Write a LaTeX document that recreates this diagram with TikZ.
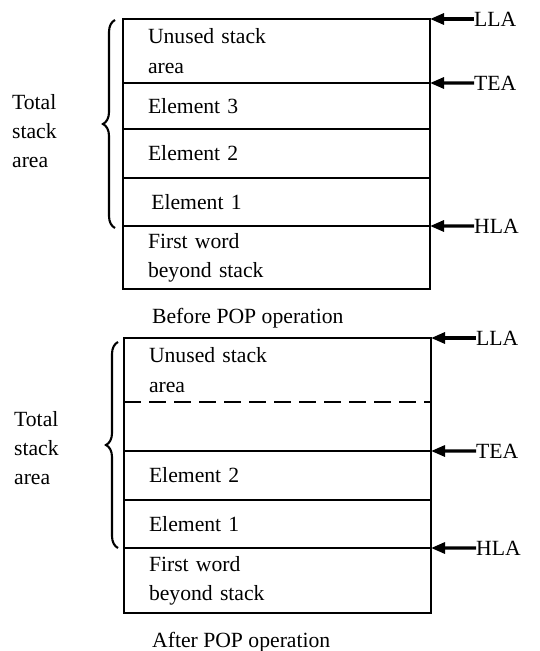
\documentclass[tikz,border=0pt]{standalone}
\usepackage{fontspec}
\setmainfont{Liberation Serif}
\usetikzlibrary{arrows.meta, positioning, decorations.pathreplacing}

\begin{document}
\begin{tikzpicture}[
  x=0.03cm, y=-0.03cm,
  every node/.style={font=\fontsize{18.5}{25}\selectfont},
  cell/.style={rectangle, minimum width=9.21cm, text width=7.71cm, inner xsep=0.75cm, inner ysep=0pt, outer sep=0pt, align=left},
  boxline/.style={line width=1.7pt},
  ptr/.style={line width=2.6pt, -{Triangle[length=0.42cm, width=0.33cm]}},
  reg/.style={anchor=west, inner sep=0pt},
  stackbrace/.style={decorate, decoration={brace, amplitude=0.36cm}, line width=1.8pt},
]
\useasboundingbox (0,0) rectangle (540,651);

% Before POP
\node[cell, anchor=north west, minimum height=1.92cm] (unusedA) at (123,19) {Unused stack\\area};
\node[cell, below=0pt of unusedA, minimum height=1.38cm] (e3A) {Element 3};
\node[cell, below=0pt of e3A, minimum height=1.47cm] (e2A) {Element 2};
\node[cell, below=0pt of e2A, minimum height=1.44cm] (e1A) {\hspace{0.1cm}Element 1};
\node[cell, below=0pt of e1A, minimum height=1.89cm] (firstA) {First word\\beyond stack};

\draw[boxline] (unusedA.north west) rectangle (firstA.south east);
\draw[boxline] (e3A.north west) -- (e3A.north east);
\draw[boxline] (e2A.north west) -- (e2A.north east);
\draw[boxline] (e1A.north west) -- (e1A.north east);
\draw[boxline] (firstA.north west) -- (firstA.north east);

\draw[stackbrace] (115,228) -- (115,20);
\node[anchor=west, align=left] (totalA) at (8,131) {Total\\stack\\area};

\node[reg] (llaA) at (474,19) {LLA};
\node[reg] (teaA) at (474,83) {TEA};
\node[reg] (hlaA) at (474,226) {HLA};
\draw[ptr] (llaA) -- (unusedA.north east);
\draw[ptr] (teaA) -- (e3A.north east);
\draw[ptr] (hlaA) -- (firstA.north east);

\node[anchor=west] (capA) at (148,318) {Before POP operation};

% After POP
\node[cell, anchor=north west, minimum height=1.92cm] (unusedB) at (124,338) {Unused stack\\area};
\node[cell, below=0pt of unusedB, minimum height=1.47cm] (gapB) {};
\node[cell, below=0pt of gapB, minimum height=1.47cm] (e2B) {Element 2};
\node[cell, below=0pt of e2B, minimum height=1.44cm] (e1B) {Element 1};
\node[cell, below=0pt of e1B, minimum height=1.95cm] (firstB) {First word\\beyond stack};

\draw[boxline] (unusedB.north west) rectangle (firstB.south east);
\draw[boxline, dashed, dash pattern=on 0.5cm off 0.25cm] (gapB.north west) -- (gapB.north east);
\draw[boxline] (e2B.north west) -- (e2B.north east);
\draw[boxline] (e1B.north west) -- (e1B.north east);
\draw[boxline] (firstB.north west) -- (firstB.north east);

\draw[stackbrace] (118,548) -- (118,342);
\node[anchor=west, align=left] (totalB) at (10,448) {Total\\stack\\area};

\node[reg] (llaB) at (476,338) {LLA};
\node[reg] (teaB) at (476,451) {TEA};
\node[reg] (hlaB) at (476,548) {HLA};
\draw[ptr] (llaB) -- (unusedB.north east);
\draw[ptr] (teaB) -- (e2B.north east);
\draw[ptr] (hlaB) -- (firstB.north east);

\node[anchor=west] (capB) at (148,642) {After POP operation};

\end{tikzpicture}
\end{document}
